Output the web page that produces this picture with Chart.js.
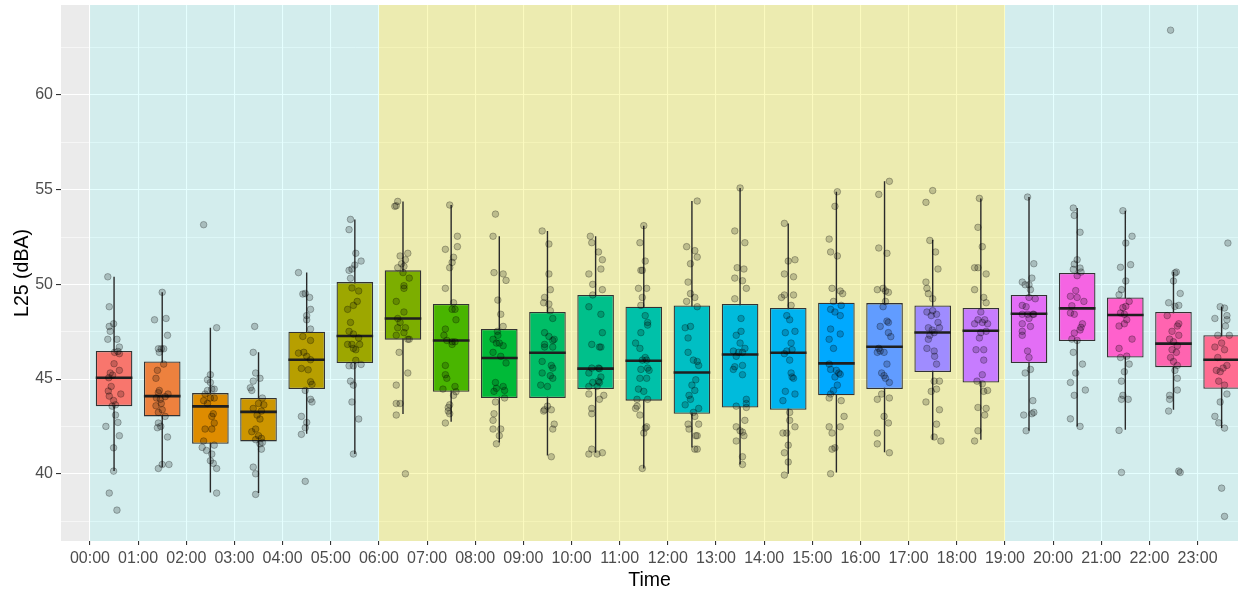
<!DOCTYPE html>
<html lang="en">
<head>
  <meta charset="UTF-8">
  <title>L25 by hour of day</title>
  <script src="https://cdn.jsdelivr.net/npm/chart.js"></script>
  <style>
    body { margin: 0; background: #ffffff; }
    #wrap { width: 1238px; height: 589px; }
  </style>
</head>
<body>
  <div id="wrap"><canvas id="chart" width="1238" height="589"></canvas></div>

  <script>
    // ---- data ----
    const hourLabels = ['00:00','01:00','02:00','03:00','04:00','05:00','06:00','07:00','08:00','09:00','10:00','11:00',
                        '12:00','13:00','14:00','15:00','16:00','17:00','18:00','19:00','20:00','21:00','22:00','23:00'];

    const whiskerLow  = [40.14, 40.35, 39.01, 38.98, 42.11, 41.04, 43.15, 42.75, 41.65, 40.97, 41.11, 40.28,
                         41.39, 40.49, 40.00, 40.07, 41.14, 41.80, 41.80, 42.27, 42.50, 42.32, 43.38, 42.41];
    const q1          = [43.57, 43.03, 41.58, 41.71, 44.47, 45.85, 47.08, 44.33, 44.00, 44.00, 44.47, 43.86,
                         43.17, 43.50, 43.38, 44.14, 44.47, 45.37, 44.82, 45.85, 47.01, 46.14, 45.63, 44.49];
    const median      = [45.07, 44.10, 43.56, 43.27, 46.02, 47.27, 48.20, 47.04, 46.11, 46.39, 45.55, 45.97,
                         45.35, 46.30, 46.39, 45.83, 46.71, 47.46, 47.55, 48.45, 48.73, 48.38, 46.87, 46.02];
    const q3          = [46.48, 45.93, 44.26, 44.00, 47.50, 50.12, 50.74, 48.96, 47.64, 48.54, 49.44, 48.82,
                         48.89, 48.96, 48.75, 49.03, 49.01, 48.89, 48.75, 49.44, 50.60, 49.31, 48.54, 47.31];
    const whiskerHigh = [50.40, 49.58, 47.71, 46.41, 50.62, 53.43, 54.38, 54.19, 52.54, 52.82, 52.54, 53.10,
                         54.40, 55.09, 53.22, 54.89, 55.44, 52.36, 54.54, 54.61, 54.03, 53.89, 50.65, 48.82];

    // jittered observations per hour: [horizontal jitter (h), L25 dBA]
    const jitter = [
      [[-0.13,50.40],[-0.10,48.82],[-0.10,47.78],[-0.01,47.92],[-0.08,47.52],[-0.13,47.10],[0.06,47.10],[0.11,46.69],[0.08,46.46],[0.11,46.34],[0.01,46.41],[0.00,45.81],[0.11,45.46],[-0.08,45.32],[-0.03,45.21],[-0.11,45.07],[-0.06,44.61],[-0.12,44.37],[-0.10,44.10],[0.14,44.21],[-0.01,43.87],[0.03,43.64],[-0.04,43.57],[0.03,43.10],[0.08,42.71],[-0.17,42.50],[0.11,42.01],[-0.01,41.37],[-0.01,40.14],[-0.10,38.98],[0.06,38.08]],
      [[0,49.58],[-0.16,48.13],[0.08,48.20],[0.11,47.31],[-0.08,46.60],[-0.02,46.60],[0.03,46.60],[-0.06,46.41],[0.03,45.79],[-0.10,45.46],[-0.13,45.04],[-0.06,44.40],[-0.08,44.28],[0.12,44.21],[0.06,44.07],[-0.12,44.00],[-0.04,43.93],[-0.02,43.71],[-0.13,43.59],[0,43.38],[-0.08,43.24],[0.06,43.03],[-0.08,42.68],[-0.03,42.50],[-0.10,42.43],[0.11,41.94],[0,40.49],[0.14,40.49],[-0.08,40.28]],
      [[-0.14,53.15],[0.13,47.71],[0,45.23],[-0.06,44.96],[0,44.82],[0.03,44.47],[-0.06,44.40],[0.08,44.47],[-0.11,44.21],[0,44.00],[0.08,44.00],[-0.14,43.86],[-0.06,43.71],[0.06,43.17],[0.03,43.03],[0.08,42.68],[-0.11,42.36],[0.03,42.36],[-0.14,41.73],[0.08,41.51],[-0.17,41.39],[-0.08,41.23],[0.03,41.04],[0,40.69],[0.06,40.55],[0.13,40.28],[0.13,38.98]],
      [[-0.08,47.78],[-0.11,46.41],[-0.06,45.32],[0.03,45.04],[-0.11,44.89],[-0.17,44.54],[-0.14,44.40],[0.08,44.00],[0,43.71],[0.11,43.64],[-0.11,43.45],[0.06,43.31],[-0.03,43.10],[0.03,42.89],[-0.06,42.36],[-0.14,42.22],[0,42.01],[0.06,41.87],[-0.06,41.80],[0.08,41.65],[0.03,41.58],[0.06,41.30],[-0.11,40.35],[-0.06,40.00],[-0.06,38.91]],
      [[-0.17,50.62],[-0.08,49.49],[-0.03,49.52],[0.06,49.31],[0.08,48.68],[0,48.35],[0,48.13],[0.08,47.64],[-0.08,47.25],[0.08,47.04],[-0.17,46.37],[-0.06,46.41],[0,46.20],[0.08,46.02],[-0.11,45.56],[0.03,45.49],[0.08,44.86],[0.11,44.72],[-0.03,44.40],[0.08,43.93],[0.11,43.79],[-0.11,43.03],[0,42.71],[-0.03,42.43],[-0.11,42.08],[-0.03,39.60]],
      [[-0.09,53.43],[-0.12,52.89],[0.02,51.64],[0.13,51.23],[0,51.02],[-0.06,50.81],[-0.12,50.74],[-0.09,50.32],[-0.06,49.81],[0.08,49.65],[0.05,49.10],[-0.03,48.89],[-0.15,48.68],[-0.09,47.99],[-0.12,47.52],[-0.03,47.38],[0.08,47.17],[-0.15,46.83],[-0.06,46.83],[0.10,46.83],[-0.03,46.62],[0.02,46.55],[0.02,45.99],[-0.12,45.70],[-0.03,45.70],[0.13,45.77],[-0.09,44.89],[-0.03,44.68],[-0.06,43.79],[0.08,42.89],[-0.03,41.04]],
      [[-0.11,54.38],[-0.17,54.12],[-0.14,54.15],[-0.06,51.50],[0.10,51.64],[0.05,51.30],[-0.03,51.09],[-0.11,50.88],[0.02,50.95],[0,50.62],[0.13,50.33],[0.02,49.93],[0.02,49.79],[-0.14,49.10],[0.02,48.54],[-0.11,48.20],[-0.06,47.99],[0.05,47.71],[-0.11,47.71],[-0.14,47.31],[0.02,47.45],[0.10,47.10],[0.13,47.10],[-0.08,46.41],[0.10,45.32],[-0.14,44.68],[-0.14,43.71],[-0.06,43.71],[-0.14,43.10],[0.05,40.00]],
      [[-0.03,54.19],[0.13,52.54],[0.13,51.99],[-0.12,51.85],[0.05,51.43],[0.02,51.16],[-0.03,50.88],[-0.12,49.79],[0.05,49.03],[0.02,48.68],[0.08,48.68],[0.10,48.13],[-0.12,47.64],[-0.15,47.31],[-0.09,47.04],[0.02,46.97],[0.02,46.83],[0.08,46.97],[-0.12,45.72],[-0.12,45.23],[-0.09,45.04],[0.08,44.61],[-0.17,44.47],[0.10,44.33],[0.05,44.14],[-0.03,43.64],[-0.06,43.50],[-0.06,43.31],[-0.03,43.17],[-0.12,42.68]],
      [[-0.08,53.71],[-0.13,52.54],[-0.11,50.62],[0.08,50.55],[0.14,50.21],[-0.03,49.17],[0.03,48.42],[0.08,47.78],[-0.04,47.52],[-0.03,47.31],[-0.13,47.10],[-0.06,46.90],[0,46.90],[0.08,46.76],[-0.13,46.41],[0.03,46.20],[0.14,45.85],[-0.08,44.82],[-0.06,44.51],[0.08,44.61],[-0.11,44.35],[0.11,44.40],[0.11,44.00],[-0.08,43.79],[-0.11,43.17],[-0.13,42.82],[-0.13,42.36],[0.03,42.36],[0,42.01],[-0.06,41.58]],
      [[-0.11,52.82],[0.03,52.13],[0.03,50.55],[0.06,49.72],[-0.06,49.31],[-0.08,49.03],[0.03,48.96],[0.06,48.61],[0.11,48.20],[-0.06,47.45],[0.03,47.25],[0.14,47.10],[0.11,47.04],[-0.06,46.83],[-0.06,46.69],[0.11,46.69],[-0.11,45.93],[0.08,45.72],[0.11,45.58],[-0.11,45.32],[0.06,45.18],[0.11,45.04],[-0.14,44.68],[0,44.61],[0,43.57],[-0.06,43.38],[-0.08,43.31],[0.08,43.38],[0.14,42.62],[0.11,42.36],[0.08,40.90]],
      [[-0.11,52.54],[-0.08,52.20],[0.06,51.71],[0.14,51.30],[0.11,50.81],[-0.14,50.55],[-0.06,50.00],[0.14,49.72],[-0.06,49.44],[-0.14,48.82],[0.11,48.42],[0.14,47.45],[-0.08,46.83],[0.08,46.69],[0.11,46.69],[-0.08,45.58],[0.06,45.58],[0.08,45.55],[-0.14,45.32],[0.11,45.11],[-0.06,44.82],[0.06,44.89],[0.08,44.82],[-0.14,44.61],[0.03,44.61],[-0.14,44.21],[0.17,44.14],[0.08,43.93],[-0.08,43.45],[-0.08,43.17],[-0.08,41.30],[-0.14,41.04],[0.03,41.04],[0.14,41.11]],
      [[0,53.10],[-0.08,52.20],[0.03,51.23],[-0.06,50.74],[-0.03,50.74],[-0.11,49.79],[0.06,49.79],[-0.03,49.31],[-0.06,48.89],[0.03,48.35],[0.08,47.99],[0.08,47.85],[-0.06,47.45],[-0.17,46.90],[-0.08,46.62],[0.03,46.14],[-0.03,46.00],[0.06,46.00],[0.08,45.58],[-0.06,45.51],[0.11,45.46],[-0.08,45.04],[0.06,45.04],[-0.11,44.47],[0,44.35],[-0.14,43.93],[0.08,43.93],[-0.14,43.57],[-0.17,43.45],[-0.08,43.10],[0.06,42.48],[0.03,42.41],[0,42.15],[-0.03,40.28]],
      [[0.11,54.40],[-0.11,51.99],[0.06,51.78],[0.11,51.44],[-0.03,51.09],[-0.08,50.12],[-0.03,49.51],[0.06,49.31],[-0.11,49.10],[0.11,48.82],[-0.14,47.71],[-0.03,47.78],[-0.08,47.17],[-0.08,46.41],[0.03,46.00],[0.11,45.93],[0.14,45.72],[0.08,44.96],[0,44.68],[0.06,44.40],[-0.06,44.14],[-0.03,43.93],[-0.14,43.64],[0.14,43.45],[0.03,43.24],[0.06,43.03],[-0.08,42.62],[0.14,42.62],[-0.06,42.36],[0.08,42.01],[0.11,42.01],[0.06,41.30],[0.11,41.30]],
      [[0,55.09],[-0.11,52.82],[0.10,52.20],[-0.06,50.88],[0.08,50.81],[-0.11,50.33],[0.05,50.19],[0.13,49.79],[-0.11,49.24],[0.02,48.20],[0.02,47.52],[-0.08,47.31],[0,46.90],[0.10,46.62],[-0.14,46.48],[-0.03,46.41],[0.05,46.41],[-0.08,46.20],[0.05,45.72],[-0.11,45.65],[-0.14,45.51],[0.05,45.23],[0.13,43.93],[0.13,43.71],[0.13,43.50],[-0.08,43.57],[0.10,42.82],[-0.08,42.48],[0,42.27],[0.05,42.20],[0.08,42.01],[-0.08,41.73],[0.05,40.90],[0.05,40.49]],
      [[-0.08,53.22],[0,51.23],[0.14,51.30],[-0.08,50.55],[0.11,50.40],[-0.08,49.44],[-0.14,49.31],[0.11,49.44],[0.06,48.89],[-0.03,48.35],[0.03,48.13],[-0.06,47.45],[0.14,47.52],[0.06,46.90],[-0.03,46.48],[0.08,46.55],[-0.08,46.34],[0.03,46.00],[0.06,45.32],[0.11,45.04],[0.08,45.11],[-0.06,44.35],[0.14,44.21],[-0.11,43.86],[0.03,43.24],[0.03,42.82],[0.14,42.48],[-0.11,42.15],[-0.03,42.15],[0,41.51],[-0.08,41.11],[0,40.62],[-0.08,39.93]],
      [[0.02,54.89],[-0.03,54.12],[-0.15,52.39],[-0.12,51.71],[0.02,51.50],[-0.09,49.79],[0.08,49.65],[0.13,49.51],[-0.06,49.10],[0.10,48.89],[-0.12,48.68],[-0.03,48.54],[0.08,48.35],[-0.12,47.64],[0.08,47.38],[-0.15,47.10],[-0.06,46.62],[-0.15,45.79],[-0.12,45.51],[0,45.46],[0.08,45.25],[0.05,45.32],[-0.03,45.11],[0.02,44.68],[-0.06,44.40],[-0.12,44.21],[-0.15,44.00],[0.10,43.86],[0.16,43.03],[-0.15,42.48],[0.08,42.48],[-0.09,42.15],[-0.09,41.30],[-0.03,41.37],[-0.12,40.00]],
      [[0.10,55.44],[-0.12,54.75],[-0.12,51.92],[0.05,51.64],[-0.15,49.72],[-0.03,49.79],[0.02,49.65],[0.08,49.58],[0.02,49.10],[-0.03,48.82],[0.05,48.06],[0.08,47.99],[-0.09,47.78],[0.08,47.45],[0.13,47.24],[-0.12,46.62],[-0.09,46.48],[-0.01,46.41],[-0.15,46.41],[0.05,45.79],[-0.06,45.32],[-0.01,45.18],[0.02,45.04],[0.10,44.82],[-0.06,44.21],[-0.15,43.93],[0.10,44.00],[-0.01,43.03],[0.08,42.68],[-0.15,42.15],[-0.15,41.58],[0.10,41.11]],
      [[0,54.95],[-0.14,54.33],[-0.06,52.32],[0.06,51.71],[0.11,50.81],[-0.14,50.12],[-0.12,49.79],[-0.09,49.51],[0,49.24],[-0.12,48.54],[0,48.61],[0.08,48.42],[-0.03,48.35],[0.11,47.99],[0.14,47.71],[-0.09,47.71],[-0.01,47.59],[0.03,47.45],[-0.06,47.31],[-0.09,47.10],[-0.12,46.62],[0.03,46.48],[0.04,46.20],[0.08,45.79],[0.03,44.89],[0.14,44.89],[0.08,44.47],[-0.03,44.35],[-0.14,43.79],[0.14,43.38],[0.08,42.62],[0.03,41.94],[0.17,41.73]],
      [[-0.03,54.54],[-0.06,53.01],[0.03,51.99],[-0.13,50.88],[-0.06,50.88],[0.11,50.55],[-0.13,49.72],[0.06,49.31],[0.11,49.03],[0,48.54],[0.08,48.13],[0.14,47.92],[-0.13,47.92],[-0.06,48.13],[0.03,47.99],[0.11,47.52],[0,47.45],[-0.03,47.17],[-0.10,46.55],[0.06,46.55],[0.06,46.00],[0.03,45.23],[-0.08,44.89],[0.03,44.75],[0.14,44.40],[0.06,44.35],[-0.06,43.50],[0.11,43.45],[0.08,43.10],[-0.06,42.27],[-0.13,41.73]],
      [[-0.03,54.61],[0.10,51.09],[-0.14,50.12],[-0.08,49.98],[0.06,50.33],[0,49.98],[0.03,49.72],[0,49.31],[0.13,49.24],[-0.14,48.89],[-0.06,48.82],[-0.14,48.42],[-0.03,48.42],[0.10,48.42],[0,48.20],[0.08,48.42],[-0.14,47.92],[0.03,47.78],[-0.14,47.52],[-0.14,47.31],[-0.03,46.48],[0,46.14],[0.03,45.51],[-0.08,45.32],[0.08,43.86],[-0.11,43.10],[0.06,43.17],[0.10,43.24],[-0.06,42.27]],
      [[-0.08,54.03],[-0.06,53.64],[0.06,52.75],[0,51.30],[-0.06,51.07],[0.06,50.86],[-0.08,50.79],[0.08,50.65],[0,50.46],[-0.03,49.67],[-0.14,49.37],[0,49.31],[0.14,49.10],[-0.11,48.87],[-0.06,48.42],[-0.14,48.49],[0.11,47.92],[0.08,47.73],[0.06,47.59],[-0.06,47.43],[-0.11,47.11],[0,47.04],[-0.08,46.41],[0.11,45.79],[-0.03,45.32],[-0.14,44.82],[0.17,44.42],[-0.06,44.14],[-0.14,42.90],[0.06,42.50]],
      [[-0.05,53.89],[0.14,52.54],[0.01,52.18],[-0.10,50.90],[0.11,51.04],[0.01,50.18],[-0.08,49.72],[-0.13,49.45],[0.08,49.10],[0.01,48.84],[-0.05,48.77],[-0.10,48.49],[-0.02,48.42],[0.03,48.13],[-0.02,47.92],[-0.13,47.80],[0.14,47.11],[-0.13,46.62],[-0.10,46.14],[0.03,46.21],[0.08,45.79],[-0.02,45.39],[-0.08,44.89],[-0.05,44.14],[-0.08,43.93],[0.06,43.93],[-0.13,42.29],[-0.08,40.07]],
      [[-0.06,63.42],[0.06,50.65],[0.03,50.60],[0,50.18],[0.14,49.52],[-0.10,49.03],[0.03,48.84],[0.11,48.89],[-0.13,48.35],[0.11,47.92],[0.08,47.80],[-0.03,47.52],[0.11,47.31],[-0.08,47.11],[0,46.97],[0.08,46.76],[-0.03,46.55],[0.06,46.41],[-0.06,46.14],[0,45.93],[0.08,45.72],[0.03,45.46],[0.08,45.04],[0.08,44.42],[-0.08,44.14],[-0.08,43.93],[-0.10,43.31],[0.11,40.14],[0.14,40.07]],
      [[0.13,52.18],[-0.03,48.82],[0.06,48.75],[-0.14,48.20],[0.11,48.35],[0.11,48.13],[0.08,47.80],[-0.08,47.31],[0.16,47.31],[0,46.90],[-0.14,46.69],[0.06,46.55],[-0.08,46.14],[0.11,45.72],[0.03,45.58],[-0.11,45.46],[-0.03,45.39],[-0.06,44.89],[0.06,44.68],[0.11,44.21],[-0.03,43.79],[-0.14,43.03],[-0.06,42.69],[0.06,42.41],[0,39.24],[0.06,37.75]]
    ];

    // shaded periods of the day, in hours
    const periods = [
      { from: 0,  to: 6,  kind: 'night' },
      { from: 6,  to: 19, kind: 'day' },
      { from: 19, to: 24, kind: 'night' }
    ];

    const yMajor = [40, 45, 50, 55, 60];
    const yMinor = [37.5, 42.5, 47.5, 52.5, 57.5, 62.5];

    // ---- styling ----
    const FONT = "'Liberation Sans', Arial, sans-serif";
    const BOX_WIDTH = 0.76;          // in hours
    const X_MIN = -0.602, X_MAX = 23.84;
    const Y_MIN = 36.45, Y_MAX = 64.75;
    const periodFill = { night: 'rgba(0,255,255,0.10)', day: 'rgba(240,236,0,0.25)' };

    // ggplot-style hue palette (hcl, c = 100, l = 65)
    function hcl(h, c, l) {
      const Xn = 95.047, Yn = 100, Zn = 108.883;
      const un = 4 * Xn / (Xn + 15 * Yn + 3 * Zn);
      const vn = 9 * Yn / (Xn + 15 * Yn + 3 * Zn);
      const rad = h * Math.PI / 180;
      const u = c * Math.cos(rad) / (13 * l) + un;
      const v = c * Math.sin(rad) / (13 * l) + vn;
      const Y = l > 8 ? Yn * Math.pow((l + 16) / 116, 3) : Yn * l / 903.3;
      const X = 9 * Y * u / (4 * v);
      const Z = Y * (12 - 3 * u - 20 * v) / (4 * v);
      const lin = [
         3.240479 * X - 1.537150 * Y - 0.498535 * Z,
        -0.969256 * X + 1.875992 * Y + 0.041556 * Z,
         0.055648 * X - 0.204043 * Y + 1.057311 * Z
      ].map(t => t / 100);
      const hex = lin.map(t => {
        let g = t > 0.00304 ? 1.055 * Math.pow(t, 1 / 2.4) - 0.055 : 12.92 * t;
        g = Math.min(1, Math.max(0, g));
        return Math.round(g * 255).toString(16).padStart(2, '0');
      });
      return '#' + hex.join('');
    }
    const boxColors = hourLabels.map((_, i) => hcl(15 + 15 * i, 100, 65));

    // ---- datasets ----
    const boxes = hourLabels.map((_, i) => ({ x: i + 0.5, y: [q1[i], q3[i]] }));
    const whiskers = hourLabels.flatMap((_, i) => [
      { x: i + 0.5, y: whiskerLow[i] }, { x: i + 0.5, y: whiskerHigh[i] }, { x: i + 0.5, y: null }
    ]);
    const medians = hourLabels.flatMap((_, i) => [
      { x: i + 0.5 - BOX_WIDTH / 2, y: median[i] }, { x: i + 0.5 + BOX_WIDTH / 2, y: median[i] }, { x: i + 0.5, y: null }
    ]);
    const points = jitter.flatMap((obs, i) => obs.map(([dx, v]) => ({ x: i + 0.5 + dx, y: v })));

    const panelBackground = {
      id: 'panelBackground',
      beforeDraw(chart) {
        const { ctx, chartArea: a } = chart;
        ctx.save();
        ctx.fillStyle = '#ffffff';
        ctx.fillRect(0, 0, chart.width, chart.height);
        ctx.fillStyle = '#ebebeb';
        ctx.fillRect(a.left, a.top, a.right - a.left, a.bottom - a.top);
        ctx.restore();
      },
      beforeDatasetsDraw(chart) {
        const { ctx, chartArea: a, scales: { x } } = chart;
        ctx.save();
        periods.forEach(p => {
          const x0 = Math.max(a.left, x.getPixelForValue(p.from));
          const x1 = Math.min(a.right, x.getPixelForValue(p.to));
          ctx.fillStyle = periodFill[p.kind];
          ctx.fillRect(x0, a.top, x1 - x0, a.bottom - a.top);
        });
        ctx.restore();
      }
    };

    const isMajor = v => yMajor.includes(v);

    new Chart(document.getElementById('chart').getContext('2d'), {
      type: 'scatter',
      data: {
        datasets: [
          {
            type: 'scatter',
            data: points,
            order: 0,
            pointRadius: 3.3,
            pointBackgroundColor: 'rgba(0,0,0,0.2)',
            pointBorderColor: 'rgba(0,0,0,0.26)',
            pointBorderWidth: 1
          },
          {
            type: 'line',
            data: medians,
            order: 1,
            borderColor: '#1f1f1f',
            borderWidth: 2.6,
            pointRadius: 0,
            spanGaps: false
          },
          {
            type: 'bar',
            data: boxes,
            order: 2,
            backgroundColor: boxColors,
            borderColor: '#333333',
            borderWidth: 1.3,
            borderSkipped: false,
            grouped: false,
            barPercentage: BOX_WIDTH,
            categoryPercentage: 1
          },
          {
            type: 'line',
            data: whiskers,
            order: 3,
            borderColor: '#2a2a2a',
            borderWidth: 1.4,
            pointRadius: 0,
            spanGaps: false
          }
        ]
      },
      options: {
        responsive: false,
        animation: false,
        devicePixelRatio: 1,
        layout: { autoPadding: false, padding: { top: 5, right: 0, bottom: 0, left: 0 } },
        plugins: { legend: { display: false }, tooltip: { enabled: false } },
        scales: {
          x: {
            type: 'linear',
            min: X_MIN,
            max: X_MAX,
            offset: false,
            afterBuildTicks: s => { s.ticks = hourLabels.map((_, i) => ({ value: i })); },
            afterFit: s => { s.height = 48; s.paddingLeft = 0; s.paddingRight = 0; },
            ticks: {
              autoSkip: false, maxRotation: 0, minRotation: 0,
              padding: 4,
              color: '#4d4d4d',
              font: { family: FONT, size: 16 },
              callback: v => hourLabels[v]
            },
            grid: { color: '#ffffff', lineWidth: 1.1, offset: false, tickLength: 4, tickColor: '#333333', tickWidth: 1.1 },
            border: { display: false },
            title: { display: true, text: 'Time', color: '#000000', font: { family: FONT, size: 19.5 }, padding: { top: 0, bottom: -3 } }
          },
          y: {
            type: 'linear',
            min: Y_MIN,
            max: Y_MAX,
            afterBuildTicks: s => { s.ticks = yMinor.concat(yMajor).sort((a, b) => a - b).map(v => ({ value: v })); },
            afterFit: s => { s.width = 61; s.paddingTop = 0; s.paddingBottom = 0; },
            ticks: {
              padding: 3,
              color: '#4d4d4d',
              font: { family: FONT, size: 16 },
              callback: v => isMajor(v) ? String(v) : ''
            },
            grid: {
              color: '#ffffff',
              lineWidth: c => isMajor(c.tick.value) ? 1.1 : 0.55,
              tickLength: 5,
              tickColor: c => isMajor(c.tick.value) ? '#333333' : 'rgba(0,0,0,0)',
              tickWidth: 1.1
            },
            border: { display: false },
            title: { display: true, text: 'L25 (dBA)', color: '#000000', font: { family: FONT, size: 19.5 }, padding: { top: 11, bottom: 0 } }
          }
        }
      },
      plugins: [panelBackground]
    });
  </script>
</body>
</html>
